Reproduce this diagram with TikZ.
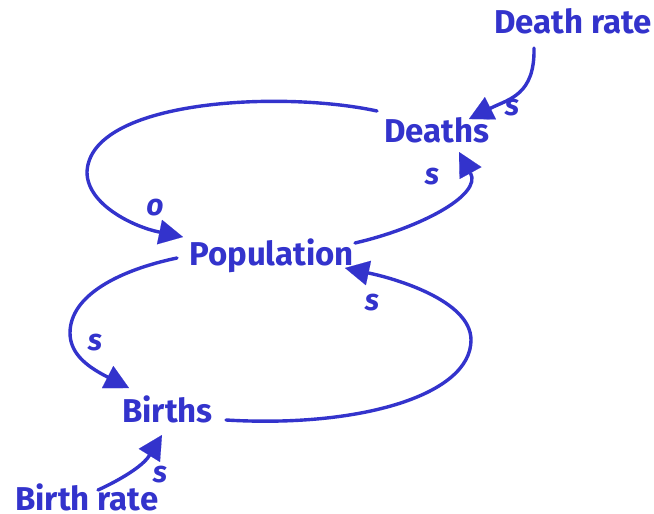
\documentclass[tikz,border=0pt]{standalone}
\usepackage{fontspec}
\setmainfont{Fira Sans}
\usetikzlibrary{arrows.meta,calc}
\definecolor{cld}{RGB}{51,51,204}
\tikzset{
  var/.style={anchor=base west,inner sep=0pt,text=cld,font=\fontsize{33}{37}\selectfont\bfseries},
  pol/.style={inner sep=0pt,text=cld,font=\fontsize{30}{34}\selectfont\bfseries\itshape},
  link/.style={draw=cld,line width=3.4pt,line cap=round,
    -{Triangle[length=24pt,width=25pt,line width=0.1pt]}}
}
\begin{document}
\begin{tikzpicture}[x=1pt,y=-1pt]
\useasboundingbox (0,0) rectangle (654,514);
\node[var] (dr) at (494,34) {Death rate};
\node[var] (de) at (384,142) {Deaths};
\node[var] (po) at (189,265) {Population};
\node[var] (bi) at (122,422) {Births};
\node[var] (br) at (15,510) {Birth rate};
% Death rate -> Deaths
\draw[link] ($(dr.base west)+(40,14)$) .. controls (535,95) and (509,99) .. (491,108) -- ($(de.base west)+(85,-23)$);
% Deaths -> Population
\draw[link] ($(de.base west)+(-7,-31)$) .. controls (280,90) and (90,100) .. (87,172)
   .. controls (87,205) and (134.5,227) .. (159,232) -- ($(po.base west)+(-6,-28)$);
% Population -> Deaths
\draw[link] ($(po.base west)+(166,-22)$) .. controls (420,228) and (482.5,195) .. (470.5,173) -- ($(de.base west)+(75,10)$);
% Births -> Population
\draw[link] ($(bi.base west)+(104,-2)$) .. controls (360,428) and (471,395) .. (471,340)
   .. controls (471,300) and (393,278) .. (368.5,273) -- ($(po.base west)+(156,3)$);
% Population -> Births
\draw[link] ($(po.base west)+(-12,-7)$) .. controls (120,270) and (70,295) .. (70,333)
   .. controls (70,355) and (89.7,367.9) .. (107.5,377) -- ($(bi.base west)+(7,-34)$);
% Birth rate -> Births
\draw[link] ($(br.base west)+(83,-20)$) .. controls (120,480) and (142.7,466.2) .. (149,456) -- ($(bi.base west)+(40,13)$);
% polarity labels
\node[pol] (l1) at (512,108) {s};
\node[pol] (l2) at (155,208) {o};
\node[pol] (l3) at (432,177) {s};
\node[pol] (l4) at (372,303) {s};
\node[pol] (l5) at (95,343) {s};
\node[pol] (l6) at (160,475) {s};
\end{tikzpicture}
\end{document}
